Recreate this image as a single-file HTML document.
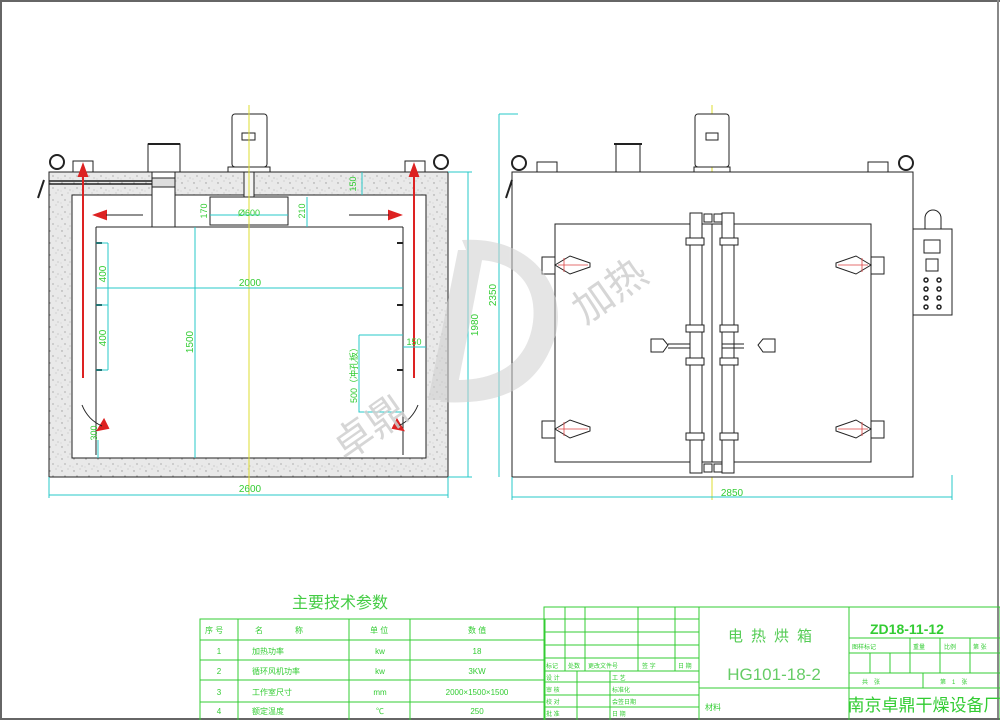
<!DOCTYPE html>
<html><head><meta charset="utf-8"><style>
html,body{margin:0;padding:0;background:#fff}
svg{display:block}
text{font-family:"Liberation Sans","Noto Sans CJK SC",sans-serif}
</style></head><body>
<svg width="1000" height="720" viewBox="0 0 1000 720" xmlns="http://www.w3.org/2000/svg">
<defs>
<pattern id="sp" width="12" height="12" patternUnits="userSpaceOnUse">
<rect width="12" height="12" fill="#e9e9e9"/>
<circle cx="2" cy="3" r="0.7" fill="#999"/><circle cx="8" cy="1" r="0.5" fill="#aaa"/>
<circle cx="5" cy="8" r="0.6" fill="#888"/><circle cx="10" cy="10" r="0.5" fill="#999"/>
<circle cx="1" cy="11" r="0.4" fill="#aaa"/>
</pattern>
</defs>
<rect width="1000" height="720" fill="#fff"/>
<line x1="0" y1="1" x2="1000" y2="1" stroke="#666" stroke-width="2"/>
<line x1="1" y1="0" x2="1" y2="720" stroke="#666" stroke-width="2"/>
<line x1="998" y1="0" x2="998" y2="720" stroke="#888" stroke-width="2"/>
<line x1="0" y1="719" x2="1000" y2="719" stroke="#666" stroke-width="2"/>

<!-- LEFT DRAWING -->
<g stroke="#222" stroke-width="1" fill="none">
<rect x="49" y="172" width="399" height="305" fill="url(#sp)"/>
<rect x="72" y="195" width="354" height="263" fill="#fff"/>
<rect x="152" y="172" width="23" height="55" fill="#fff"/>
<rect x="148" y="144" width="32" height="28" fill="#fff"/>
<line x1="148" y1="144" x2="180" y2="144" stroke-width="2"/>
<line x1="96" y1="227" x2="152" y2="227"/>
<line x1="175" y1="227" x2="403" y2="227"/>
<line x1="96" y1="227" x2="96" y2="455"/>
<line x1="403" y1="227" x2="403" y2="455"/>
<rect x="210" y="197" width="78" height="28"/>
<rect x="232" y="114" width="35" height="53" rx="3" fill="#fff"/>
<rect x="242" y="133" width="13" height="7"/>
<rect x="228" y="167" width="42" height="5"/>
<rect x="244" y="172" width="10" height="25" fill="#f4f4f4"/>
<line x1="49" y1="181" x2="152" y2="181" stroke-width="1.5"/>
<line x1="49" y1="184" x2="152" y2="184" stroke-width="1.5"/>
<rect x="152" y="178" width="23" height="9" fill="#ddd"/>
<circle cx="57" cy="162" r="7" stroke-width="2"/>
<circle cx="441" cy="162" r="7" stroke-width="2"/>
<rect x="73" y="161" width="20" height="11"/>
<rect x="405" y="161" width="20" height="11"/>
<line x1="44" y1="180" x2="38" y2="198" stroke-width="2"/>
<path d="M96 243h6M96 305h6M96 370h6M397 243h6M397 305h6M397 370h6" stroke-width="2"/>
</g>
<g stroke="#d22" stroke-width="2" fill="#d22">
<line x1="83" y1="378" x2="83" y2="172"/><path d="M79 176 L83 165 L87 176Z"/>
<line x1="414" y1="378" x2="414" y2="172"/><path d="M410 176 L414 165 L418 176Z"/>
<path d="M95 215 L106 211 L106 219Z"/>
<path d="M400 215 L389 211 L389 219Z"/>
<path d="M98 430 L104 420 L108 428Z"/><path d="M403 430 L397 420 L393 428Z"/>
</g>
<g stroke="#222" stroke-width="1" fill="none">
<line x1="106" y1="215" x2="143" y2="215"/><line x1="349" y1="215" x2="389" y2="215"/>
<path d="M82 405 Q88 420 102 426"/><path d="M418 405 Q412 420 398 426"/>
</g>
<line x1="249" y1="105" x2="249" y2="495" stroke="#dddd30" stroke-width="1"/>
<line x1="712" y1="105" x2="712" y2="500" stroke="#dddd30" stroke-width="1"/>
<g stroke="#27c8c8" stroke-width="1" fill="none">
<line x1="49" y1="495" x2="448" y2="495"/><line x1="49" y1="477" x2="49" y2="498"/><line x1="448" y1="477" x2="448" y2="498"/>
<line x1="448" y1="172" x2="472" y2="172"/><line x1="448" y1="477" x2="472" y2="477"/><line x1="468" y1="172" x2="468" y2="477"/>
<line x1="96" y1="288" x2="403" y2="288"/>
<line x1="195" y1="227" x2="195" y2="458"/>
<line x1="108" y1="243" x2="108" y2="305"/><path d="M96 243h12M96 305h12M96 370h12"/><line x1="108" y1="305" x2="108" y2="370"/>
<path d="M359 335 H403 M359 335 V412 H403"/>
<line x1="403" y1="347" x2="426" y2="347"/>
<line x1="362" y1="172" x2="362" y2="195"/>
<line x1="307" y1="197" x2="307" y2="227"/>
<line x1="210" y1="215" x2="288" y2="215"/>
<line x1="98" y1="440" x2="98" y2="458"/>
</g>
<g fill="#33cc33" font-size="10">
<text x="250" y="492" text-anchor="middle">2600</text>
<text x="250" y="286" text-anchor="middle">2000</text>
<text x="249" y="216" text-anchor="middle" font-size="9">Ø600</text>
<text transform="translate(478,325) rotate(-90)" text-anchor="middle">1980</text>
<text transform="translate(193,342) rotate(-90)" text-anchor="middle">1500</text>
<text transform="translate(106,274) rotate(-90)" text-anchor="middle">400</text>
<text transform="translate(106,338) rotate(-90)" text-anchor="middle">400</text>
<text transform="translate(357,373) rotate(-90)" text-anchor="middle" font-size="9">500（冲孔板）</text>
<text transform="translate(356,184) rotate(-90)" text-anchor="middle" font-size="9">150</text>
<text transform="translate(207,211) rotate(-90)" text-anchor="middle" font-size="9">170</text>
<text transform="translate(305,211) rotate(-90)" text-anchor="middle" font-size="9">210</text>
<text transform="translate(97,433) rotate(-90)" text-anchor="middle" font-size="9">300</text>
<text x="414" y="345" text-anchor="middle" font-size="9">150</text>
</g>

<!-- RIGHT DRAWING -->
<g stroke="#222" stroke-width="1" fill="none">
<rect x="512" y="172" width="401" height="305" fill="#fff"/>
<rect x="555" y="224" width="316" height="238"/>
<rect x="695" y="114" width="34" height="53" rx="3" fill="#fff"/>
<rect x="706" y="133" width="12" height="7"/>
<rect x="694" y="167" width="36" height="5"/>
<rect x="616" y="144" width="24" height="28"/><line x1="614" y1="144" x2="642" y2="144" stroke-width="2"/>
<circle cx="519" cy="163" r="7" stroke-width="2"/><circle cx="906" cy="163" r="7" stroke-width="2"/>
<rect x="537" y="162" width="20" height="10"/><rect x="868" y="162" width="20" height="10"/>
<line x1="512" y1="180" x2="506" y2="198" stroke-width="2"/>
<rect x="913" y="229" width="39" height="86"/>
<path d="M925 229 V218 A8 8 0 0 1 941 218 V229"/>
<rect x="924" y="240" width="16" height="13"/><rect x="926" y="259" width="12" height="12"/>
<g stroke-width="1.5"><circle cx="926" cy="280" r="2"/><circle cx="939" cy="280" r="2"/><circle cx="926" cy="289" r="2"/><circle cx="939" cy="289" r="2"/><circle cx="926" cy="298" r="2"/><circle cx="939" cy="298" r="2"/><circle cx="926" cy="307" r="2"/><circle cx="939" cy="307" r="2"/></g>
<rect x="690" y="213" width="12" height="260" fill="#fff"/>
<rect x="722" y="213" width="12" height="260" fill="#fff"/>
<line x1="712" y1="224" x2="712" y2="462"/>
<rect x="704" y="214" width="8" height="8"/><rect x="714" y="214" width="8" height="8"/>
<rect x="704" y="464" width="8" height="8"/><rect x="714" y="464" width="8" height="8"/>
<g fill="#fff">
<rect x="686" y="238" width="18" height="7"/><rect x="720" y="238" width="18" height="7"/>
<rect x="686" y="325" width="18" height="7"/><rect x="720" y="325" width="18" height="7"/>
<rect x="686" y="358" width="18" height="7"/><rect x="720" y="358" width="18" height="7"/>
<rect x="686" y="433" width="18" height="7"/><rect x="720" y="433" width="18" height="7"/>
</g>
<path d="M690 344 H668 M690 348 H668 M722 344 H744 M722 348 H744"/>
<path d="M651 339 H663 L668 345 L663 352 H651 Z"/>
<path d="M775 339 H763 L758 345 L763 352 H775 Z"/>
<g fill="#fff">
<path d="M542 257 H555 V274 H542 Z"/><path d="M555 265 L570 256 L590 263 L590 267 L570 274 Z"/>
<path d="M542 421 H555 V438 H542 Z"/><path d="M555 429 L570 420 L590 427 L590 431 L570 438 Z"/>
<path d="M884 257 H871 V274 H884 Z"/><path d="M871 265 L856 256 L836 263 L836 267 L856 274 Z"/>
<path d="M884 421 H871 V438 H884 Z"/><path d="M871 429 L856 420 L836 427 L836 431 L856 438 Z"/>
</g>
</g>
<g stroke="#d44" stroke-width="0.8"><path d="M558 265H588M564 258V272M862 258V272M838 265H868M558 429H588M564 422V436M862 422V436M838 429H868"/></g>
<g stroke="#27c8c8" stroke-width="1" fill="none">
<line x1="512" y1="497" x2="952" y2="497"/><line x1="512" y1="477" x2="512" y2="500"/><line x1="952" y1="475" x2="952" y2="500"/>
<line x1="499" y1="114" x2="499" y2="477"/><line x1="499" y1="114" x2="518" y2="114"/>
</g>
<g fill="#33cc33" font-size="10">
<text x="732" y="496" text-anchor="middle">2850</text>
<text transform="translate(496,295) rotate(-90)" text-anchor="middle">2350</text>
</g>

<!-- watermark D on top, translucent -->
<g opacity="0.55" fill="#cfcfcf">
<path d="M462 240 C540 235 575 300 550 350 C530 395 490 405 440 402 L450 380 C500 382 528 360 533 322 C538 280 510 258 470 260 Z"/>
<path d="M458 250 L484 250 L455 400 L428 400 Z"/>
</g>
<text transform="translate(585,325) rotate(-35)" font-size="40" fill="#cfcfcf" fill-opacity="0.85" font-family="Noto Sans CJK SC,sans-serif">加热</text>
<text transform="translate(345,462) rotate(-35)" font-size="40" fill="#cfcfcf" fill-opacity="0.85" font-family="Noto Sans CJK SC,sans-serif">卓鼎</text>

<!-- TABLES -->
<text x="340" y="608" text-anchor="middle" font-size="16" fill="#44cc44" font-family="Noto Sans CJK SC,sans-serif">主要技术参数</text>
<g stroke="#3c3" stroke-width="1" fill="none">
<rect x="200" y="619" width="345" height="105"/>
<path d="M238 619V720M349 619V720M410 619V720M200 640H545M200 660H545M200 680H545M200 702H545"/>
<rect x="544" y="607" width="456" height="120"/>
<path d="M544 619H699M544 632H699M544 645H699M544 658H699M544 671H699M544 682H699M544 695H699M544 707H699"/>
<path d="M565 607V671M585 607V671M638 607V671M675 607V671M577 671V720M610 671V720M699 607V720"/>
<path d="M699 688H1000M849 607V720M849 638H1000M849 653H1000M849 673H1000M910 638V673M940 638V673M970 638V673M870 653V673M890 653V673M923 673V688"/>
</g>
<g fill="#3c3" font-size="8" font-family="Noto Sans CJK SC,sans-serif">
<text x="205" y="633">序 号</text><text x="255" y="633">名　　　　称</text><text x="370" y="633">单 位</text><text x="468" y="633">数 值</text>
<text x="219" y="654" text-anchor="middle">1</text><text x="252" y="654">加热功率</text><text x="380" y="654" text-anchor="middle">kw</text><text x="477" y="654" text-anchor="middle">18</text>
<text x="219" y="674" text-anchor="middle">2</text><text x="252" y="674">循环风机功率</text><text x="380" y="674" text-anchor="middle">kw</text><text x="477" y="674" text-anchor="middle">3KW</text>
<text x="219" y="695" text-anchor="middle">3</text><text x="252" y="695">工作室尺寸</text><text x="380" y="695" text-anchor="middle">mm</text><text x="477" y="695" text-anchor="middle">2000×1500×1500</text>
<text x="219" y="714" text-anchor="middle">4</text><text x="252" y="714">额定温度</text><text x="380" y="714" text-anchor="middle">℃</text><text x="477" y="714" text-anchor="middle">250</text>
<text x="546" y="668" font-size="6">标记</text><text x="568" y="668" font-size="6">处数</text><text x="588" y="668" font-size="6">更改文件号</text><text x="642" y="668" font-size="6">签 字</text><text x="678" y="668" font-size="6">日 期</text>
<text x="546" y="680" font-size="6">设 计</text><text x="612" y="680" font-size="6">工 艺</text>
<text x="546" y="692" font-size="6">审 核</text><text x="612" y="692" font-size="6">标准化</text>
<text x="546" y="704" font-size="6">校 对</text><text x="612" y="704" font-size="6">会签日期</text>
<text x="546" y="716" font-size="6">批 准</text><text x="612" y="716" font-size="6">日 期</text>
<text x="852" y="649" font-size="6">图样标记</text><text x="913" y="649" font-size="6">重量</text><text x="944" y="649" font-size="6">比例</text><text x="973" y="649" font-size="6">第 张</text>
<text x="862" y="684" font-size="6">共　张</text><text x="940" y="684" font-size="6">第　1　张</text>
<text x="705" y="710" font-size="8">材料</text>
<text x="774" y="641" text-anchor="middle" font-size="15" letter-spacing="8" fill="#55cc55">电热烘箱</text>
<text x="774" y="680" text-anchor="middle" font-size="17" fill="#66cc66" font-family="Liberation Sans Narrow,Liberation Sans,sans-serif">HG101-18-2</text>
<text x="924" y="711" text-anchor="middle" font-size="17">南京卓鼎干燥设备厂</text>
<text x="870" y="634" font-size="14" font-weight="bold" font-family="Liberation Sans,sans-serif">ZD18-11-12</text>
</g>
</svg>
</body></html>
